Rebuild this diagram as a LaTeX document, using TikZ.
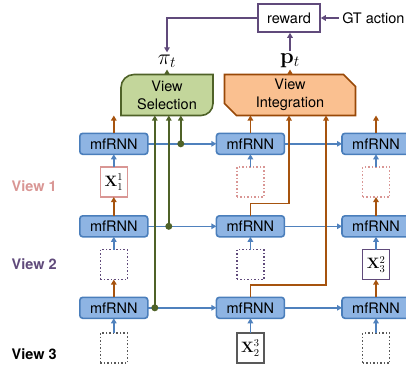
\documentclass[tikz,border=0pt]{standalone}
\usepackage{fix-cm}
\usepackage[no-math]{fontspec}
\setmainfont{TeX Gyre Heros}
\usetikzlibrary{matrix,arrows.meta,positioning,backgrounds}

\definecolor{rnnfill}{HTML}{8EB4E3}
\definecolor{rnnline}{HTML}{4A7EBB}
\definecolor{linkblue}{HTML}{4F81BD}
\definecolor{outorange}{HTML}{A6530E}
\definecolor{selgreen}{HTML}{4F6228}
\definecolor{selfill}{HTML}{C3D69B}
\definecolor{intfill}{HTML}{FAC090}
\definecolor{intline}{HTML}{984807}
\definecolor{vpurple}{HTML}{604A7B}
\definecolor{vpink}{HTML}{D99694}
\definecolor{vgray}{HTML}{595959}

\begin{document}
\begin{tikzpicture}[x=1pt, y=1pt, font=\fontsize{14.5}{18}\selectfont,
  >={Triangle[length=5pt,width=5.5pt]},
  rnn/.style={draw=rnnline, fill=rnnfill, line width=1.6pt, rounded corners=3pt,
    minimum width=68pt, minimum height=21pt, inner sep=0pt, anchor=center},
  inbox/.style={line width=1.5pt, minimum width=27pt, minimum height=30pt,
    inner sep=0pt, anchor=center, fill=white, font=\fontsize{15}{17}\selectfont},
  xpink/.style={inbox, draw=vpink}, dpink/.style={inbox, draw=vpink, dotted},
  xpurple/.style={inbox, draw=vpurple}, dpurple/.style={inbox, draw=vpurple, dotted},
  xgray/.style={inbox, draw=vgray}, dgray/.style={inbox, draw=vgray, dotted},
  module/.style={align=center, inner sep=0pt, outer sep=0pt, minimum height=41pt},
  bigmath/.style={font=\fontsize{22}{24}\selectfont, inner sep=2pt},
  vlabel/.style={font=\fontsize{14.5}{18}\selectfont\bfseries},
  blink/.style={->, draw=linkblue, line width=1.4pt},
  olink/.style={->, draw=outorange, line width=1.4pt},
  glink/.style={->, draw=selgreen, line width=1.4pt},
  plink/.style={->, draw=vpurple, line width=1.4pt}]
  \useasboundingbox (0,0) rectangle (406,368);

  \matrix (m) [matrix of nodes, nodes in empty cells, inner sep=0pt, outer sep=0pt,
    row sep=11.2pt, column sep=56pt, anchor=north west] at (79,235.5)
  {
    |[rnn]| mfRNN &[11pt] |[rnn]| mfRNN & |[rnn]| mfRNN \\
    |[xpink]| $\mathbf{X}_1^1$ & |[dpink]| {} & |[dpink]| {} \\[6pt]
    |[rnn]| mfRNN & |[rnn]| mfRNN & |[rnn]| mfRNN \\
    |[dpurple]| {} & |[dpurple]| {} & |[xpurple]| $\mathbf{X}_3^2$ \\[5pt]
    |[rnn]| mfRNN & |[rnn]| mfRNN & |[rnn]| mfRNN \\[2pt]
    |[dgray]| {} & |[xgray]| $\mathbf{X}_2^3$ & |[dgray]| {} \\
  };

  \node[vlabel, text=vpink, left=40pt of m-2-1, yshift=-4pt] (v1) {View 1};
  \node[vlabel, text=vpurple, left=40pt of m-4-1] (v2) {View 2};
  \node[vlabel, left=40pt of m-6-1, yshift=-6pt] (v3) {View 3};

  \node[module, minimum width=92pt] (vsel) at (167,273) {View\\Selection};
  \node[module, minimum width=131pt] (vint) at (290,273) {View\\Integration};
  \node[bigmath, above=5pt of vsel] (pi) {$\pi_t$};
  \node[bigmath, above=5pt of vint] (pt) {$\mathbf{p}_t$};
  \node[draw=vpurple, line width=1.6pt, minimum width=62pt, minimum height=28pt,
    inner sep=0pt] (rwd) at (289,350) {reward};
  \node[right=18pt of rwd] (gt) {GT action};

  \begin{scope}[on background layer]
    \path[draw=selgreen, fill=selfill, line width=1.6pt]
      (vsel.south west) -- ([yshift=-13pt]vsel.north west)
      arc[start angle=180, end angle=90, radius=13pt] -- (vsel.north east)
      -- ([yshift=12pt]vsel.south east)
      arc[start angle=0, end angle=-90, radius=12pt] -- cycle;
    \path[draw=intline, fill=intfill, line width=1.6pt]
      ([yshift=12pt]vint.south west) -- (vint.north west)
      -- ([xshift=-12pt]vint.north east) -- ([yshift=-12pt]vint.north east)
      -- (vint.south east) -- ([xshift=12pt]vint.south west) -- cycle;
  \end{scope}

  \foreach \r in {1,3,5} {
    \draw[blink] (m-\r-1) -- (m-\r-2);
    \draw[blink] (m-\r-2) -- (m-\r-3);
  }
  \foreach \c in {1,2,3} {
    \draw[blink] (m-2-\c) -- (m-1-\c);
    \draw[blink] (m-4-\c) -- (m-3-\c);
    \draw[blink] (m-6-\c) -- (m-5-\c);
    \draw[olink] (m-1-\c.north) -- (m-1-\c.north |- vint.south);
  }
  \draw[olink] (m-3-1) -- (m-2-1);
  \draw[olink] (m-5-1) -- (m-4-1);
  \draw[olink] (m-3-3) -- (m-2-3);
  \draw[olink] (m-5-3) -- (m-4-3);
  \draw[olink] (m-3-2.north) -- ++(0,12.5) -| ([xshift=-1pt]vint.south);
  \draw[olink] (m-5-2.north) -- ++(0,12.5) -| ([xshift=36pt]vint.south);

  \coordinate (g1) at ([xshift=33pt]m-1-1.east);
  \coordinate (g2) at ([xshift=21pt]m-3-1.east);
  \coordinate (g3) at ([xshift=7pt]m-5-1.east);
  \foreach \g in {g1,g2,g3} {
    \draw[glink] (\g) -- (\g |- vsel.south);
    \fill[selgreen] (\g) circle (3.5pt);
  }

  \draw[glink] (vsel.north) -- (pi.south);
  \draw[olink] (vint.north) -- (pt.south);
  \draw[plink] (pt.north) -- (pt.north |- rwd.south);
  \draw[plink] (gt.west) -- (rwd.east);
  \draw[plink] (rwd.west) -| (pi.north);
\end{tikzpicture}
\end{document}
